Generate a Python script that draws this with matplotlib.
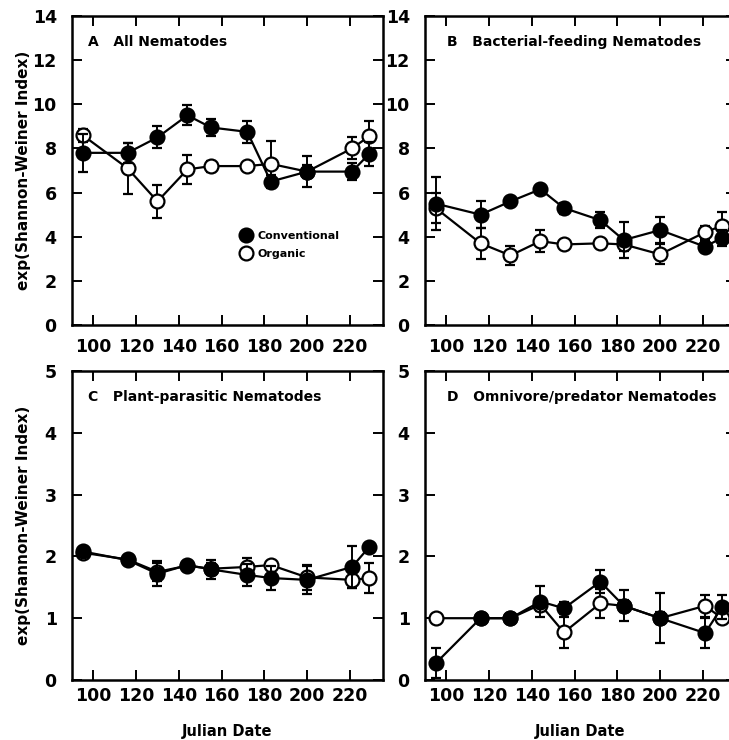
import matplotlib
matplotlib.use("Agg")
import matplotlib.pyplot as plt
from matplotlib.lines import Line2D

plt.rcParams['font.family'] = ['DejaVu Sans']

dates = [95, 116, 130, 144, 155, 172, 183, 200, 221, 229]

a_conv = [7.8, 7.8, 8.5, 9.5, 8.95, 8.75, 6.5, 6.95, 6.95, 7.75]
a_conv_err = [0.85, 0.45, 0.5, 0.45, 0.4, 0.5, 0.3, 0.7, 0.4, 0.55]
a_org = [8.6, 7.1, 5.6, 7.05, 7.2, 7.2, 7.3, 6.95, 8.0, 8.55]
a_org_err = [0.3, 1.15, 0.75, 0.65, 0.25, 0.15, 1.05, 0.3, 0.5, 0.7]

b_conv = [5.5, 5.0, 5.6, 6.15, 5.3, 4.75, 3.85, 4.3, 3.55, 3.95]
b_conv_err = [1.2, 0.6, 0.15, 0.15, 0.25, 0.35, 0.8, 0.6, 0.25, 0.35]
b_org = [5.3, 3.7, 3.15, 3.8, 3.65, 3.7, 3.65, 3.2, 4.2, 4.5]
b_org_err = [0.7, 0.7, 0.45, 0.5, 0.15, 0.15, 0.3, 0.45, 0.3, 0.6]

c_conv = [2.08, 1.94, 1.72, 1.86, 1.79, 1.70, 1.65, 1.62, 1.83, 2.15]
c_conv_err = [0.05, 0.05, 0.2, 0.05, 0.15, 0.18, 0.2, 0.23, 0.34, 0.05]
c_org = [2.06, 1.95, 1.75, 1.85, 1.8, 1.83, 1.86, 1.66, 1.62, 1.65]
c_org_err = [0.05, 0.05, 0.15, 0.05, 0.1, 0.15, 0.05, 0.2, 0.13, 0.25]

d_conv = [0.27, 1.0, 1.0, 1.27, 1.16, 1.59, 1.2, 1.0, 0.76, 1.18]
d_conv_err = [0.24, 0.0, 0.0, 0.25, 0.1, 0.19, 0.25, 0.4, 0.25, 0.2]
d_org = [1.0, 1.0, 1.0, 1.22, 0.77, 1.24, 1.2, 1.0, 1.2, 1.0]
d_org_err = [0.0, 0.0, 0.0, 0.1, 0.25, 0.23, 0.1, 0.1, 0.18, 0.05]

titles = ["A   All Nematodes", "B   Bacterial-feeding Nematodes",
          "C   Plant-parasitic Nematodes", "D   Omnivore/predator Nematodes"]
ylabel = "exp(Shannon-Weiner Index)"
xlabel = "Julian Date"
xticks = [100, 120, 140, 160, 180, 200, 220]

W, H = 729, 740
fig = plt.figure(figsize=(W / 100, H / 100), dpi=100)

def rect(l, r, t, b):
    return [l / W, 1 - b / H, (r - l) / W, (b - t) / H]

axA = fig.add_axes(rect(72, 383, 16, 325))
axB = fig.add_axes(rect(425, 736, 16, 325))
axC = fig.add_axes(rect(72, 383, 371, 680))
axD = fig.add_axes(rect(425, 736, 371, 680))

panels = [
    (axA, a_conv, a_conv_err, a_org, a_org_err, 14, 2),
    (axB, b_conv, b_conv_err, b_org, b_org_err, 14, 2),
    (axC, c_conv, c_conv_err, c_org, c_org_err, 5, 1),
    (axD, d_conv, d_conv_err, d_org, d_org_err, 5, 1),
]

for i, (ax, cv, cve, og, oge, ymax, ystep) in enumerate(panels):
    ax.errorbar(dates, og, yerr=oge, color='black', lw=1.6, marker='o',
                ms=10, mfc='white', mec='black', mew=1.6, capsize=3.5,
                elinewidth=1.4, capthick=1.6, zorder=3)
    ax.errorbar(dates, cv, yerr=cve, color='black', lw=1.6, marker='o',
                ms=10, mfc='black', mec='black', mew=1.6, capsize=3.5,
                elinewidth=1.4, capthick=1.6, zorder=4)
    ax.set_xlim(90, 235.5)
    ax.set_ylim(0, ymax)
    ax.set_xticks(xticks)
    ax.set_yticks(list(range(0, ymax + 1, ystep)))
    ax.tick_params(direction='in', length=7, width=1.4, top=True, right=True,
                   labelsize=12.5)
    ax.tick_params(axis='x', pad=9 if i < 2 else 5)
    ax.tick_params(axis='y', pad=11)
    for lab in ax.get_xticklabels() + ax.get_yticklabels():
        lab.set_fontweight('bold')
    for s in ax.spines.values():
        s.set_linewidth(1.8)
    ax.text(0.05 if i % 2 == 0 else 0.07, 0.915, titles[i], transform=ax.transAxes,
            fontsize=10, fontweight='bold', va='center', ha='left')
    if i % 2 == 0:
        ax.set_ylabel(ylabel, fontsize=11, fontweight='bold')
        ax.yaxis.set_label_coords(-0.132, 0.5)
    if i >= 2:
        ax.set_xlabel(xlabel, fontsize=10.5, fontweight='bold', labelpad=14)

handles = [
    Line2D([], [], ls='none', marker='o', ms=10, mfc='black', mec='black', mew=1.6),
    Line2D([], [], ls='none', marker='o', ms=10, mfc='white', mec='black', mew=1.6),
]
axA.legend(handles, ["Conventional", "Organic"], loc='center left',
           bbox_to_anchor=(0.51, 0.26), frameon=False, handlelength=1.0,
           handletextpad=0.5, labelspacing=0.7,
           prop={'size': 8, 'weight': 'bold'})

fig.savefig("out.png", dpi=100)
